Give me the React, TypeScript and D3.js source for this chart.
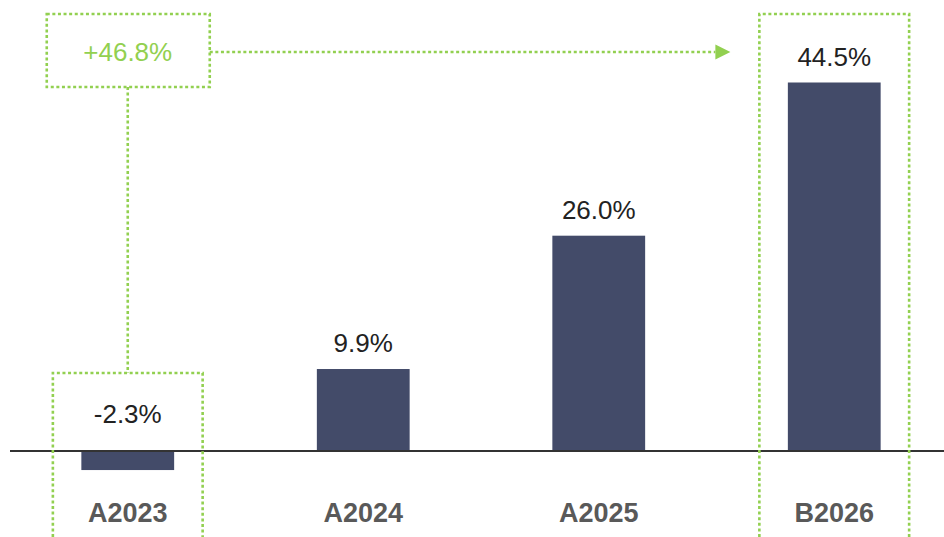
import React from "react";
import * as d3 from "d3";

const categories = ["A2023", "A2024", "A2025", "B2026"];
const values = [-2.3, 9.9, 26.0, 44.5];
const fromIndex = 0;
const toIndex = 3;

const W = 944;
const H = 537;
const BAR = "#434b69";
const GREEN = "#92d050";

export default function App() {
  const x = d3
    .scaleBand<string>()
    .domain(categories)
    .range([10, 952])
    .paddingInner(0.606)
    .paddingOuter(0.303);
  const y = d3.scaleLinear().domain([0, 44.5]).range([451, 82.5]);
  const fmt = (v: number) => d3.format(".1f")(v).replace("\u2212", "-");
  const diffFmt = (v: number) => d3.format("+.1f")(v).replace("\u2212", "-");
  const y0 = y(0);
  const bw = x.bandwidth();
  const cx = (c: string) => (x(c) as number) + bw / 2;
  const boxHalf = x.step() * 0.318;
  const dot = { stroke: GREEN, strokeWidth: 2.6, strokeDasharray: "3 2.6", fill: "none" };

  const fromC = cx(categories[fromIndex]);
  const toC = cx(categories[toIndex]);
  const annY = 52;
  const annBox = { x0: fromC - 81, x1: fromC + 82, y0: 14, y1: 87 };
  const diff = values[toIndex] - values[fromIndex];

  return (
    <svg
      width={W}
      height={H}
      style={{ position: "absolute", left: 0, top: 0, background: "#fff" }}
      fontFamily="'Liberation Sans', Arial, sans-serif"
    >
      {categories.map((c, i) => {
        const v = values[i];
        const top = Math.min(y(v), y0);
        const h = Math.abs(y(v) - y0);
        return <rect key={c} x={x(c)} y={top} width={bw} height={h} fill={BAR} />;
      })}
      <line x1={10} x2={W} y1={y0} y2={y0} stroke="#333" strokeWidth={2} />
      {categories.map((c, i) => {
        const v = values[i];
        const ly = v >= 0 ? y(v) - 17 : y0 - 28;
        return (
          <text key={c} x={cx(c)} y={ly} textAnchor="middle" fontSize={26} fill="#222">
            {fmt(v)}%
          </text>
        );
      })}
      {categories.map((c) => (
        <text
          key={c}
          x={cx(c)}
          y={522}
          textAnchor="middle"
          fontSize={27}
          fontWeight="bold"
          fill="#595959"
        >
          {c}
        </text>
      ))}
      {[fromC, toC].map((c, k) => {
        const top = k === 0 ? 373 : 14;
        return (
          <path
            key={k}
            d={`M${c - boxHalf},${H} V${top} H${c + boxHalf} V${H}`}
            {...dot}
          />
        );
      })}
      <rect
        x={annBox.x0}
        y={annBox.y0}
        width={annBox.x1 - annBox.x0}
        height={annBox.y1 - annBox.y0}
        {...dot}
      />
      <text x={fromC} y={61} textAnchor="middle" fontSize={26} fill={GREEN}>
        {diffFmt(diff)}%
      </text>
      <line x1={fromC} x2={fromC} y1={annBox.y1} y2={373} {...dot} />
      <line x1={annBox.x1} x2={toC - boxHalf - 44} y1={annY} y2={annY} {...dot} />
      <path
        d={`M${toC - boxHalf - 44},${annY - 7.5} L${toC - boxHalf - 29},${annY} L${toC - boxHalf - 44},${annY + 7.5} Z`}
        fill={GREEN}
      />
    </svg>
  );
}
